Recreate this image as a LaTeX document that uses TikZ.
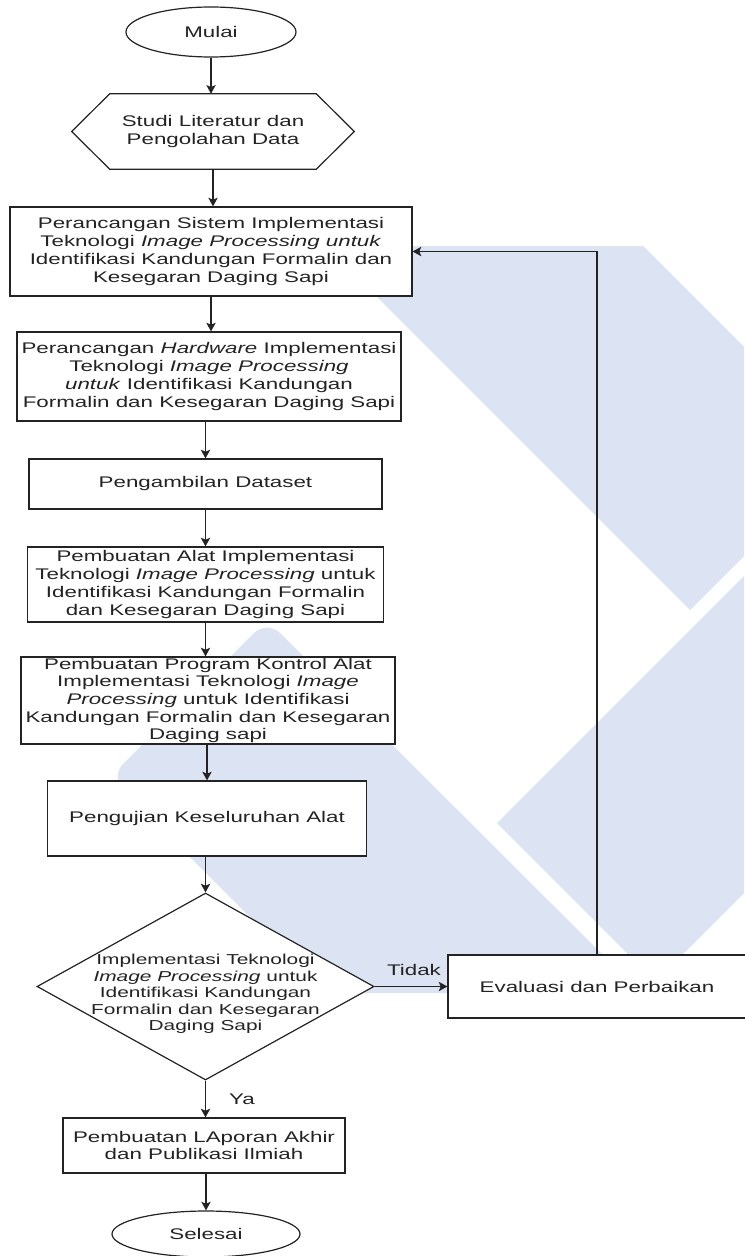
\documentclass[tikz,border=0pt]{standalone}
\usepackage{fontspec}
\setmainfont{Liberation Sans}[FakeStretch=1.45]
\usetikzlibrary{shapes.geometric,arrows.meta,calc}
\definecolor{wm}{RGB}{220,227,242}
\definecolor{ink}{RGB}{35,35,35}
\begin{document}
\begin{tikzpicture}[x=0.75pt,y=-0.75pt,
  every node/.style={font=\fontsize{11.55}{13.3}\selectfont, text=ink, align=center},
  proc/.style={draw=ink, line width=0.9pt, fill=white, rectangle, inner sep=0pt},
  term/.style={draw=ink, line width=0.9pt, fill=white, ellipse, inner sep=0pt},
  decision/.style={draw=ink, line width=0.9pt, fill=white, diamond, inner sep=0pt},
  edgeline/.style={draw=ink, line width=0.9pt},
  flow/.style={draw=ink, line width=0.9pt, -{Stealth[length=6.5pt,width=7pt,inset=1.5pt]}},
  lbl/.style={inner sep=0pt},
  smallfont/.style={font=\fontsize{10.8}{12.45}\selectfont}
]
\useasboundingbox (0,0) rectangle (744,1256);
\fill[white] (0,0) rectangle (744,1256);

% watermark
\fill[wm] (326,246) -- (643,246) -- (744,347) -- (744,556) -- (690,610) -- cycle;
\fill[wm] (497,823) -- (744,576) -- (744,893) -- (655.5,981.5) -- cycle;
\fill[wm, rounded corners=14] (326,993) -- (110,777) -- (267,620) -- (641,993) -- cycle;

% nodes
\node[term, minimum width=127.5pt, minimum height=37.5pt] (mulai) at (211,32) {Mulai};

\node[inner sep=0pt, minimum width=211.5pt, minimum height=56.25pt] (hex) at (213,131.5)
  {Studi Literatur dan\\Pengolahan Data};
\draw[edgeline] (hex.west) -- ($(hex.north west)+(38,0)$) -- ($(hex.north east)+(-38,0)$)
  -- (hex.east) -- ($(hex.south east)+(-38,0)$) -- ($(hex.south west)+(38,0)$) -- cycle;

\node[proc, minimum width=301.5pt, minimum height=66.75pt] (b1) at (211,251.5)
  {Perancangan Sistem Implementasi\\Teknologi \textit{Image Processing untuk}\\Identifikasi Kandungan Formalin dan\\Kesegaran Daging Sapi};

\node[proc, minimum width=288pt, minimum height=66.75pt] (b2) at (209,376.5)
  {Perancangan \textit{Hardware} Implementasi\\Teknologi \textit{Image Processing}\\\textit{untuk} Identifikasi Kandungan\\Formalin dan Kesegaran Daging Sapi};

\node[proc, minimum width=264.75pt, minimum height=37.5pt] (b3) at (205.5,484)
  {Pengambilan Dataset};

\node[proc, minimum width=267pt, minimum height=56.25pt] (b4) at (205.5,584.5)
  {Pembuatan Alat Implementasi\\Teknologi \textit{Image Processing} untuk\\Identifikasi Kandungan Formalin\\dan Kesegaran Daging Sapi};

\node[proc, minimum width=280.5pt, minimum height=65.25pt] (b5) at (208,700.5)
  {Pembuatan Program Kontrol Alat\\Implementasi Teknologi \textit{Image}\\\textit{Processing} untuk Identifikasi\\Kandungan Formalin dan Kesegaran\\Daging sapi};

\node[proc, minimum width=239.25pt, minimum height=56.25pt] (b6) at (207,818.5)
  {Pengujian Keseluruhan Alat};

\node[decision, minimum width=252.75pt, minimum height=140.25pt] (dia) at (205.5,986.5) {};
\node[lbl, smallfont] (diatext) at (205.5,994)
  {Implementasi Teknologi\\\textit{Image Processing} untuk\\Identifikasi Kandungan\\Formalin dan Kesegaran\\Daging Sapi};

\node[proc, minimum width=223.5pt, minimum height=47.25pt] (ev) at (597,986.5)
  {Evaluasi dan Perbaikan};

\node[proc, minimum width=211.5pt, minimum height=41.25pt] (lap) at (204,1145.5)
  {Pembuatan LAporan Akhir\\dan Publikasi Ilmiah};

\node[term, minimum width=141pt, minimum height=34.5pt] (sel) at (206,1234) {Selesai};

\node[lbl] (tidak) at (414,970) {Tidak};
\node[lbl] (ya) at (242,1099) {Ya};

% connectors
\draw[flow] (mulai.south) -- (mulai.south |- hex.north);
\draw[flow] (hex.south) -- (hex.south |- b1.north);
\draw[flow] (b1.south) -- (b1.south |- b2.north);
\draw[flow] (b2.south -| b3.north) -- (b3.north);
\draw[flow] (b3.south) -- (b3.south |- b4.north);
\draw[flow] (b4.south) -- (b4.south |- b5.north);
\draw[flow] (b5.south -| b6.north) -- (b6.north);
\draw[flow] (b6.south -| dia.north) -- (dia.north);
\draw[flow] (dia.south) -- (dia.south |- lap.north);
\draw[flow] (lap.south -| sel.north) -- (sel.north);
\draw[flow] (dia.east) -- (ev.west);
\draw[flow] (ev.north) -- (ev.north |- b1.east) -- (b1.east);
\end{tikzpicture}
\end{document}
